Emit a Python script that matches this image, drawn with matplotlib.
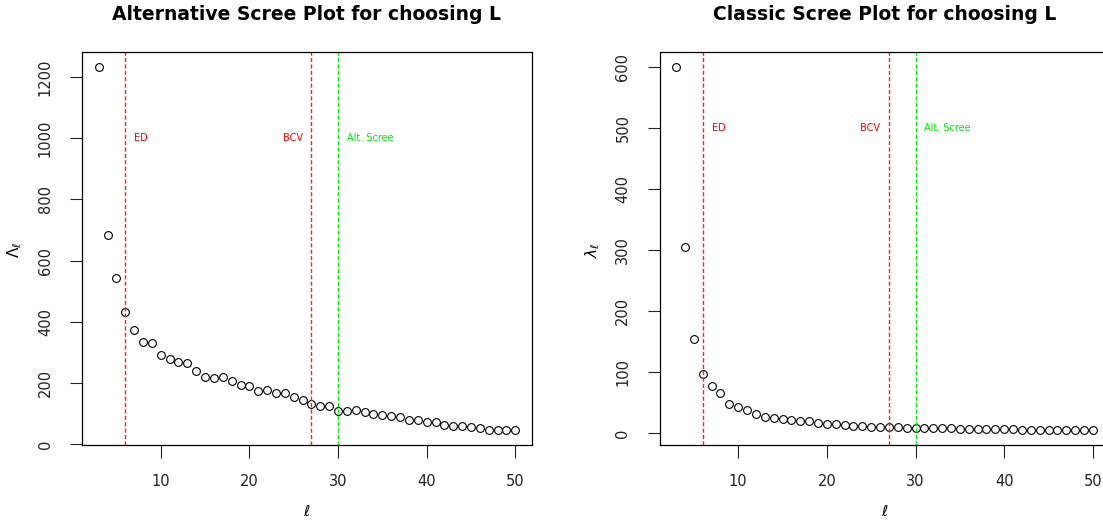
import numpy as np
import matplotlib
matplotlib.use("Agg")
import matplotlib.pyplot as plt

# component index
ell = np.arange(3, 51)

# alternative scree values
alt_values = [1235, 684, 543, 432, 372, 332, 329, 290, 277, 268, 265, 238,
              219, 216, 219, 205, 192, 190, 173, 177, 167, 165, 154, 145,
              132, 124, 124, 107, 107, 110, 103, 99, 95, 91, 88, 79, 79,
              73, 71, 62, 59, 58, 54, 51, 47, 47, 45, 44]

# classic scree values (eigenvalues)
classic_values = [600, 304, 154, 97, 77, 66, 47, 43, 38, 31.6, 27.3, 25.6,
                  23.5, 21.8, 19.6, 19.6, 16.4, 15.8, 14.7, 13.0, 12.5, 11.5,
                  10.9, 10.4, 10.4, 9.8, 9.3, 9.3, 8.8, 8.5, 8.2, 7.9, 7.6,
                  7.3, 7.0, 6.8, 6.6, 6.4, 6.2, 6.0, 5.8, 5.6, 5.4, 5.2, 5.0,
                  4.8, 4.6, 4.5, 4.4, 4.4][:len(ell)]

# chosen L by each method
cut_ed = 6
cut_bcv = 27
cut_alt = 30

titles = ["Alternative Scree Plot for choosing L", "Classic Scree Plot for choosing L"]
ylabels = [r"$\Lambda_\ell$", r"$\lambda_\ell$"]
yticks = [[0, 200, 400, 600, 800, 1000, 1200], [0, 100, 200, 300, 400, 500, 600]]
text_y = [1000, 500]

W, H = 1103, 523
fig = plt.figure(figsize=(W / 100, H / 100), dpi=100)

tick_font = 10.5
label_font = 11
note_font = 7
dash = (0, (3, 1.6))

ax_left = fig.add_axes([82 / W, 1 - 445 / H, 450 / W, 393 / H])
ax_right = fig.add_axes([659.5 / W, 1 - 445 / H, 450 / W, 393 / H])

axes_center = [82 + 225, 659.5 + 225]
ylabel_x = [15, 593]

for i, (ax, vals) in enumerate(zip([ax_left, ax_right], [alt_values, classic_values])):
    ax.plot(ell, vals, linestyle="none", marker="o", markersize=5.6,
            markerfacecolor="none", markeredgecolor="black", markeredgewidth=0.8)

    ax.axvline(cut_ed, color="#ff2020", linestyle=dash, linewidth=1.0)
    ax.axvline(cut_bcv, color="#ff2020", linestyle=dash, linewidth=1.0)
    ax.axvline(cut_alt, color="#00ee00", linestyle=dash, linewidth=1.0)

    ax.text(cut_ed + 1, text_y[i], "ED", color="#ff0000", fontsize=note_font,
            ha="left", va="center")
    ax.text(cut_bcv - 1, text_y[i], "BCV", color="#ff0000", fontsize=note_font,
            ha="right", va="center")
    ax.text(cut_alt + 1, text_y[i], "Alt. Scree", color="#00ee00", fontsize=note_font,
            ha="left", va="center")

    # R style 4% padding
    lo, hi = min(vals), max(vals)
    pad = 0.04 * (hi - lo)
    ax.set_ylim(lo - pad, hi + pad)
    ax.set_xlim(3 - 0.04 * 47, 50 + 0.04 * 47)

    ax.set_xticks([10, 20, 30, 40, 50])
    ax.set_yticks(yticks[i])
    ax.tick_params(direction="out", length=9, width=0.8, labelsize=tick_font,
                   pad=12, colors="#222222")
    for lab in ax.get_yticklabels():
        lab.set_rotation(90)
        lab.set_va("center")
    for s in ax.spines.values():
        s.set_linewidth(0.9)

    fig.text(axes_center[i] / W, 1 - 15 / H, titles[i], ha="center", va="center",
             fontsize=13.5, fontweight="bold")
    fig.text(ylabel_x[i] / W, 1 - 250 / H, ylabels[i], rotation=90,
             ha="center", va="center", fontsize=label_font)
    fig.text(axes_center[i] / W, 1 - 512 / H, r"$\ell$",
             ha="center", va="center", fontsize=label_font)

plt.savefig("out.png", dpi=100)
